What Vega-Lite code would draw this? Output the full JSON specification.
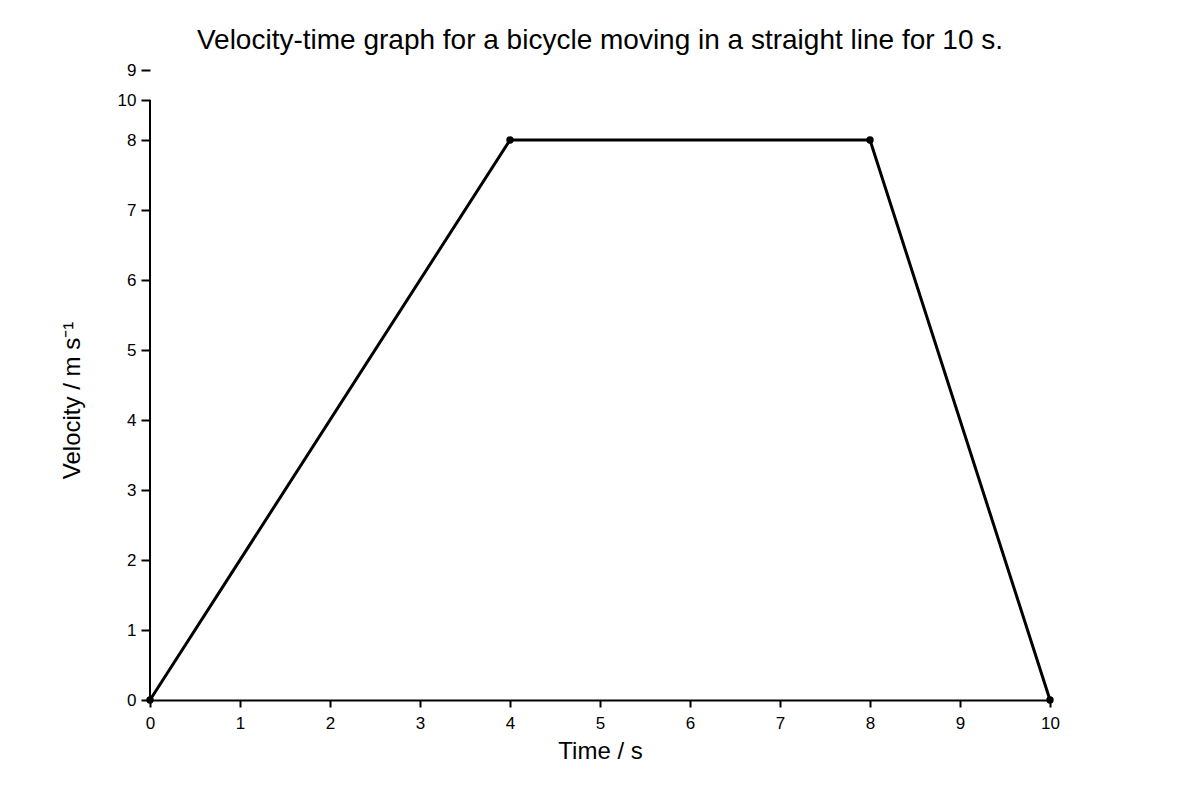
{
  "$schema": "https://vega.github.io/schema/vega-lite/v6.json",
  "autosize": "none",
  "width": 900,
  "height": 630,
  "padding": {"left": 150, "top": 70, "right": 150, "bottom": 100},
  "background": "white",
  "title": {
    "text": "Velocity-time graph for a bicycle moving in a straight line for 10 s.",
    "font": "Liberation Sans",
    "fontSize": 28,
    "fontWeight": "normal",
    "color": "black",
    "anchor": "middle",
    "frame": "group",
    "offset": 6
  },
  "config": {"view": {"stroke": null}},
  "datasets": {
    "points": [
      {"t": 0, "v": 0},
      {"t": 4, "v": 8},
      {"t": 8, "v": 8},
      {"t": 10, "v": 0}
    ],
    "yline": [
      {"t": 0, "v0": 0, "v1": 8.5714}
    ]
  },
  "layer": [
    {
      "data": {"name": "yline"},
      "mark": {"type": "rule", "color": "black", "strokeWidth": 2},
      "encoding": {
        "x": {"field": "t", "type": "quantitative"},
        "y": {"field": "v0", "type": "quantitative"},
        "y2": {"field": "v1"}
      }
    },
    {
      "data": {"name": "points"},
      "mark": {"type": "line", "color": "black", "strokeWidth": 3},
      "encoding": {
        "x": {
          "field": "t",
          "type": "quantitative",
          "scale": {"domain": [0, 10], "nice": false, "zero": false},
          "axis": {
            "title": "Time / s",
            "values": [0, 1, 2, 3, 4, 5, 6, 7, 8, 9, 10],
            "format": "d",
            "grid": false,
            "domainColor": "black",
            "domainWidth": 2,
            "tickColor": "black",
            "tickWidth": 2,
            "tickSize": 7,
            "labelFlush": false,
            "labelFont": "Liberation Sans",
            "labelFontSize": 17,
            "labelColor": "black",
            "labelPadding": 8,
            "titleFont": "Liberation Sans",
            "titleFontSize": 24,
            "titleFontWeight": "normal",
            "titleColor": "black",
            "titlePadding": 8
          }
        },
        "y": {
          "field": "v",
          "type": "quantitative",
          "scale": {"domain": [0, 9], "nice": false, "zero": false},
          "axis": {
            "title": "Velocity / m s⁻¹",
            "values": [0, 1, 2, 3, 4, 5, 6, 7, 8, 8.5714, 9],
            "labelExpr": "datum.value > 8.5 && datum.value < 8.6 ? '10' : format(datum.value, 'd')",
            "grid": false,
            "domain": false,
            "tickColor": "black",
            "tickWidth": 2,
            "tickSize": 9,
            "labelFlush": false,
            "labelFont": "Liberation Sans",
            "labelFontSize": 17,
            "labelColor": "black",
            "labelPadding": 5,
            "titleFont": "Liberation Sans",
            "titleFontSize": 24,
            "titleFontWeight": "normal",
            "titleColor": "black",
            "titlePadding": 33,
            "titleY": 330
          }
        }
      }
    },
    {
      "data": {"name": "points"},
      "mark": {"type": "circle", "color": "black", "opacity": 1, "size": 55},
      "encoding": {
        "x": {"field": "t", "type": "quantitative"},
        "y": {"field": "v", "type": "quantitative"}
      }
    }
  ]
}
